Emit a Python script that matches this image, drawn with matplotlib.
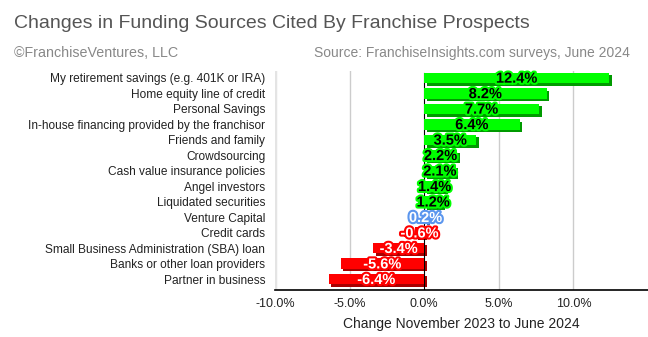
import numpy as np
import matplotlib.pyplot as plt
import matplotlib.transforms as mtransforms
import matplotlib.patheffects as pe

plt.rcParams['font.family'] = ['Liberation Sans', 'DejaVu Sans']

# Funding sources, top to bottom
sources = [
    'My retirement savings (e.g. 401K or IRA)',
    'Home equity line of credit',
    'Personal Savings',
    'In-house financing provided by the franchisor',
    'Friends and family',
    'Crowdsourcing',
    'Cash value insurance policies',
    'Angel investors',
    'Liquidated securities',
    'Venture Capital',
    'Credit cards',
    'Small Business Administration (SBA) loan',
    'Banks or other loan providers',
    'Partner in business',
]
change = [12.4, 8.2, 7.7, 6.4, 3.5, 2.2, 2.1, 1.4, 1.2, 0.2, -0.6, -3.4, -5.6, -6.4]
xticks = [-10, -5, 0, 5, 10]


def bar_colors(v):
    # face, shadow, text, outline
    if v >= 1.0:
        return '#00ff00', '#009a00', 'black', '#00ff00'
    if v > 0:
        return '#5b96ee', '#3c6fc0', 'white', '#5b96ee'
    return '#ff0000', '#a80000', 'white', '#ff0000'


fig = plt.figure(figsize=(6.48, 3.37), dpi=100)
ax = fig.add_axes([0.4244, 0.1395, 0.5756, 0.6500])

y = np.arange(len(sources))
shadow_tr = mtransforms.offset_copy(ax.transData, fig=fig, x=2.5, y=-2.5, units='dots')

for i, v in enumerate(change):
    face, shade, tcol, outline = bar_colors(v)
    ax.barh(i, v, height=0.68, color=shade, transform=shadow_tr, zorder=2)
    ax.barh(i, v, height=0.68, color=face, zorder=3)
    ax.text(v / 2, i + 0.05, f'{v:.1f}%', ha='center', va='center',
            fontsize=10.5, fontweight='bold', color=tcol, zorder=5,
            path_effects=[pe.withStroke(linewidth=3, foreground=outline)])

ax.set_xlim(-10, 15)
ax.set_ylim(13.7, -0.45)
ax.set_yticks(y)
ax.set_yticklabels(sources, fontsize=8.6, color='#222222')
ax.tick_params(axis='y', length=0, pad=7)
ax.set_xticks(xticks)
ax.set_xticklabels([f'{t:.1f}%' for t in xticks], fontsize=9, color='#222222')
ax.tick_params(axis='x', length=0, pad=6)

for t in [-5, 5, 10]:
    ax.axvline(t, color='#cccccc', lw=1, zorder=1)
ax.axvline(-10, color='#e4e4e4', lw=2.5, zorder=1)
ax.axvline(0, ymin=0, ymax=0.99, color='black', lw=0.8, zorder=2)

for s in ['top', 'right', 'left']:
    ax.spines[s].set_visible(False)
ax.spines['bottom'].set_color('black')
ax.spines['bottom'].set_linewidth(1.2)

ax.set_xlabel('Change November 2023 to June 2024', fontsize=10, color='#222222', labelpad=5)

fig.text(0.022, 0.93, 'Changes in Funding Sources Cited By Franchise Prospects',
         fontsize=14, color='#555555', va='center')
fig.text(0.022, 0.843, '\u00a9FranchiseVentures, LLC', fontsize=10.3, color='#888888', va='center')
fig.text(0.972, 0.843, 'Source: FranchiseInsights.com surveys, June 2024', fontsize=10,
         color='#888888', va='center', ha='right')

fig.savefig('out.png', dpi=100)
